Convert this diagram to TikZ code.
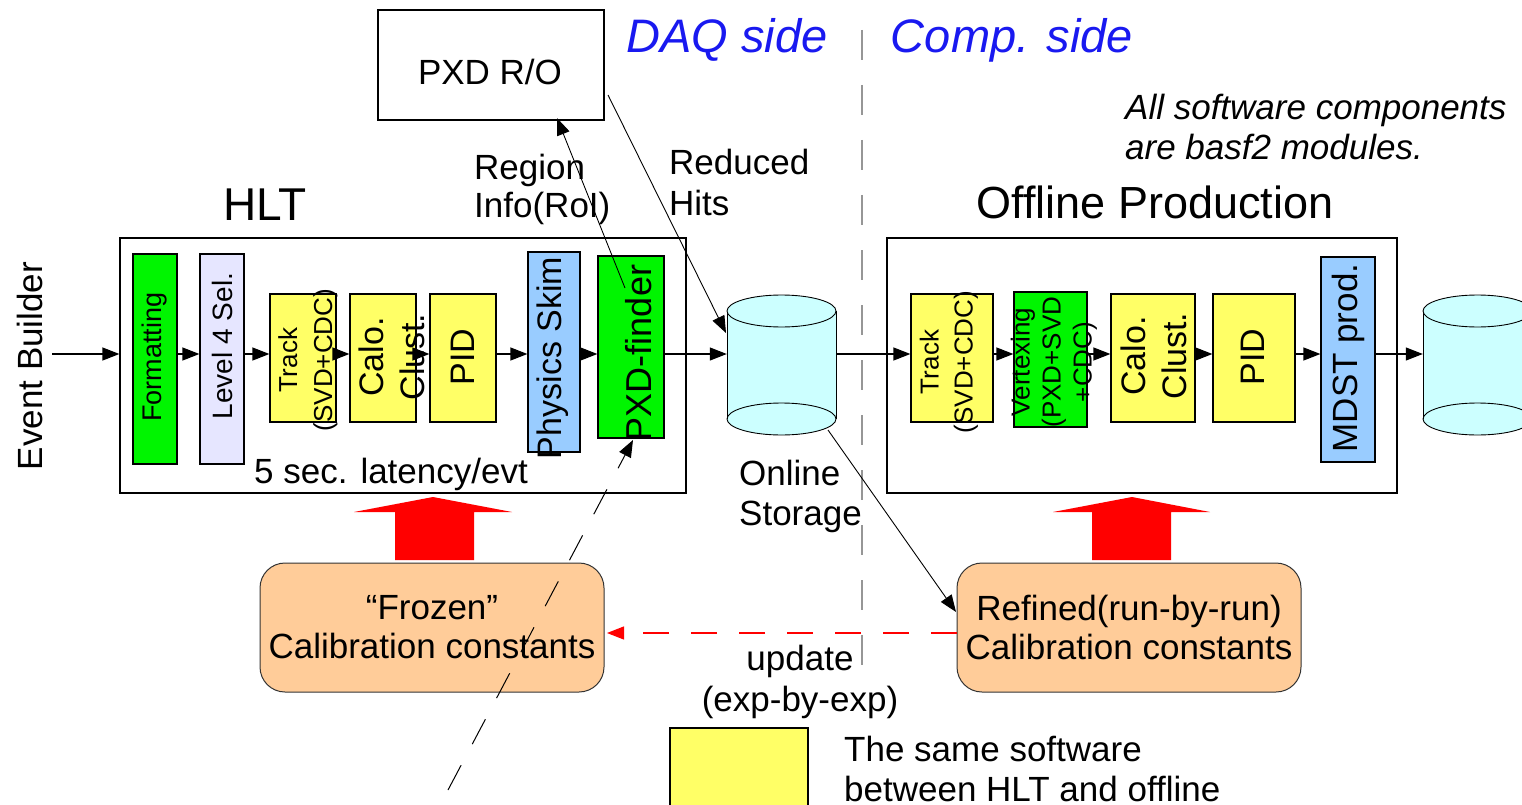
\documentclass[tikz,border=0pt]{standalone}
\usepackage{fontspec}
\setmainfont{Liberation Sans}
\usetikzlibrary{arrows.meta}
\definecolor{fgreen}{RGB}{0,245,0}
\definecolor{lav}{RGB}{230,230,255}
\definecolor{yel}{RGB}{255,255,102}
\definecolor{lblue}{RGB}{153,204,255}
\definecolor{cylc}{RGB}{204,255,255}
\definecolor{peach}{RGB}{255,204,153}
\definecolor{dblue}{RGB}{25,25,240}
\definecolor{vgray}{RGB}{150,150,150}
\newcommand{\fsz}[2]{\fontsize{#1}{#2}\selectfont}
\begin{document}
\begin{tikzpicture}[x=1pt,y=-1pt,
  box/.style={draw=black, line width=1.2pt, inner sep=0pt},
  calbox/.style={draw=black!80, line width=1pt, fill=peach, rounded corners=25pt, inner sep=0pt, minimum width=344pt, minimum height=129pt},
  arr/.style={line width=1.2pt, -{Triangle[length=17pt,width=13pt]}},
  thin arr/.style={line width=0.9pt, -{Triangle[length=17pt,width=13pt]}},
  rot/.style={rotate=90, inner sep=0pt, align=center},
  lbl/.style={inner sep=0pt},
  cylline/.style={line width=0.9pt}
]
\useasboundingbox (0,0) rectangle (1522,805);
\clip (0,0) rectangle (1522,805);
\coordinate (ly) at (0,354);

% ---------- frames ----------
\node[box, minimum width=566pt, minimum height=255pt] (hlt) at (403,365.5) {};
\node[box, minimum width=510pt, minimum height=255pt] (off) at (1142,365.5) {};
\node[box, minimum width=226pt, minimum height=110pt] (pxdro) at (491,65) {};

% ---------- HLT modules ----------
\node[box, fill=fgreen, minimum width=44pt, minimum height=210pt] (fmt) at (155,359) {};
\node[box, fill=lav, minimum width=44pt, minimum height=210pt] (lvl) at (222,359) {};
\node[box, fill=yel, minimum width=66pt, minimum height=128pt] (trk) at (303,358) {};
\node[box, fill=yel, minimum width=66pt, minimum height=128pt] (calo) at (383,358) {};
\node[box, fill=yel, minimum width=66pt, minimum height=128pt] (pid) at (463,358) {};
\node[box, fill=lblue, minimum width=52pt, minimum height=200pt] (skim) at (554,352) {};
\node[box, fill=fgreen, minimum width=66pt, minimum height=182pt] (pxdf) at (631,347) {};

% ---------- Offline modules ----------
\node[box, fill=yel, minimum width=82pt, minimum height=128pt] (otrk) at (952,358) {};
\node[box, fill=fgreen, minimum width=73pt, minimum height=135pt] (vtx) at (1050.5,359.5) {};
\node[box, fill=yel, minimum width=84pt, minimum height=128pt] (ocalo) at (1153,358) {};
\node[box, fill=yel, minimum width=82pt, minimum height=128pt] (opid) at (1254,358) {};
\node[box, fill=lblue, minimum width=54pt, minimum height=205pt] (mdst) at (1348,359.5) {};

% ---------- cylinders ----------
\node[inner sep=0pt, minimum width=109pt, minimum height=140pt] (st) at (781.5,365) {};
\fill[cylc] (727,311) -- (727,419) arc[start angle=180, end angle=360, x radius=54.5pt, y radius=16pt] -- (836,311) -- cycle;
\draw[cylline] (727,311) -- (727,419) (836,311) -- (836,419);
\draw[cylline, fill=cylc] (781.5,311) ellipse [x radius=54.5pt, y radius=16pt];
\draw[cylline] (781.5,419) ellipse [x radius=54.5pt, y radius=16pt];

\node[inner sep=0pt, minimum width=109pt, minimum height=140pt] (st2) at (1477.5,365) {};
\fill[cylc] (1423,311) -- (1423,419) arc[start angle=180, end angle=360, x radius=54.5pt, y radius=16pt] -- (1532,311) -- cycle;
\draw[cylline] (1423,311) -- (1423,419) (1532,311) -- (1532,419);
\draw[cylline, fill=cylc] (1477.5,311) ellipse [x radius=54.5pt, y radius=16pt];
\draw[cylline] (1477.5,419) ellipse [x radius=54.5pt, y radius=16pt];

% ---------- calibration boxes ----------
\node[calbox] (frozen) at (432,627.5) {};
\node[calbox] (refined) at (1129,627.5) {};
\node[lbl, align=center, font=\fsz{35}{39}] (frozent) at (432,627) {``Frozen''\\Calibration constants};
\node[lbl, align=center, font=\fsz{35}{39}] (refinedt) at (1129,627) {Refined(run-by-run)\\Calibration constants};

% legend
\node[box, fill=yel, minimum width=138pt, minimum height=90pt] (leg) at (739,773) {};

% ---------- module texts ----------
\node[rot, font=\fsz{27}{32}] (fmtt) at (155,357) {Formatting};
\node[rot, font=\fsz{28}{32}] (lvlt) at (222,346) {Level 4 Sel.};
\node[rot, font=\fsz{26}{35}] (trkt) at (308,360) {Track\\(SVD+CDC)};
\node[rot, font=\fsz{34}{41}] (calot) at (392,357) {Calo.\\Clust.};
\node[rot, font=\fsz{34}{40}] (pidt) at (463,357) {PID};
\node[rot, font=\fsz{34}{40}] (skimt) at (553,358) {Physics Skim};
\node[rot, font=\fsz{36}{40}] (pxdft) at (639,353) {PXD-finder};

\node[rot, font=\fsz{26}{34}] (otrkt) at (949,362) {Track\\(SVD+CDC)};
\node[rot, font=\fsz{26}{31}] (vtxt) at (1054,362) {Vertexing\\(PXD+SVD\\+CDC)};
\node[rot, font=\fsz{34}{41}] (ocalot) at (1154,356) {Calo.\\Clust.};
\node[rot, font=\fsz{34}{40}] (opidt) at (1253,357) {PID};
\node[rot, font=\fsz{35}{40}] (mdstt) at (1348,358) {MDST prod.};

% ---------- labels ----------
\node[rot, font=\fsz{35}{40}] (eb) at (30,366) {Event Builder};
\node[lbl, font=\fsz{46}{50}] (hltl) at (265,205) {HLT};
\node[lbl, font=\fsz{45}{50}] (offl) at (1155,202) {Offline Production};
\node[lbl, font=\fsz{35}{40}] (lat) at (391,474) {5 sec. latency/evt};
\node[lbl, font=\fsz{35}{40}] (pxdrot) at (490,72) {PXD R/O};
\node[lbl, font=\fsz{47}{50}\itshape, text=dblue] (daq) at (727,40) {DAQ side};
\node[lbl, font=\fsz{47}{50}\itshape, text=dblue] (comp) at (1012,40) {Comp. side};
\node[lbl, anchor=west, align=left, font=\fsz{35}{38}] (roi) at (474,189) {Region\\Info(RoI)};
\node[lbl, anchor=west, align=left, font=\fsz{35}{41}] (rh) at (669,182.5) {Reduced\\Hits};
\node[lbl, anchor=west, align=left, font=\fsz{35}{40}\itshape] (allsw) at (1125,127) {All software components\\are basf2 modules.};
\node[lbl, anchor=west, align=left, font=\fsz{35}{40}] (ost) at (739,496) {Online\\Storage};
\node[lbl, align=center, font=\fsz{35}{41}] (upd) at (800,682) {update\\(exp-by-exp)};
\node[lbl, anchor=west, align=left, font=\fsz{35}{40}] (legt) at (844,769) {The same software\\between HLT and offline};

% ---------- vertical divider ----------
\coordinate (dv0) at (862,30);
\coordinate (dv1) at (862,685);
\draw[vgray, line width=1.6pt, dash pattern=on 30pt off 25pt] (dv0) -- (dv1);

% ---------- red block arrows ----------
\fill[red] (395,560) -- (395,512) -- (354,512) -- (433,497) -- (512,512) -- (474,512) -- (474,560) -- cycle;
\fill[red] (1092,560) -- (1092,512) -- (1053,512) -- (1132,497) -- (1210,512) -- (1171,512) -- (1171,560) -- cycle;

% ---------- flow arrows ----------
\coordinate (e0) at (52,354);
\draw[arr] (e0) -- (e0 -| hlt.west);
\draw[arr] (fmt.east |- ly) -- (lvl.west |- ly);
\draw[arr] (lvl.east |- ly) -- (trk.west |- ly);
\draw[arr] (trk.east |- ly) -- (calo.west |- ly);
\draw[arr] (calo.east |- ly) -- (pid.west |- ly);
\draw[arr] (pid.east |- ly) -- (skim.west |- ly);
\draw[arr] (skim.east |- ly) -- (pxdf.west |- ly);
\draw[arr] (pxdf.east |- ly) -- (st.west |- ly);
\draw[arr] (st.east |- ly) -- (otrk.west |- ly);
\draw[arr] (otrk.east |- ly) -- (vtx.west |- ly);
\draw[arr] (vtx.east |- ly) -- (ocalo.west |- ly);
\draw[arr] (ocalo.east |- ly) -- (opid.west |- ly);
\draw[arr] (opid.east |- ly) -- (mdst.west |- ly);
\draw[arr] (mdst.east |- ly) -- (st2.west |- ly);

% RoI and reduced hits
\coordinate (r0) at (625,288);
\coordinate (r1) at (557,118);
\draw[thin arr] (r0) -- (r1);
\coordinate (h0) at (608,95);
\coordinate (h1) at (726,333);
\draw[thin arr] (h0) -- (h1);

% storage to refined
\coordinate (s0) at (828,430);
\coordinate (s1) at (956,612);
\draw[thin arr] (s0) -- (s1);

% update (red dashed)
\coordinate (u0) at (957,633);
\coordinate (u1) at (607,633);
\draw[red, line width=1.2pt, dash pattern=on 26pt off 22pt, -{Triangle[length=17pt,width=13pt]}] (u0) -- (u1);

% dashed line into PXD-finder
\coordinate (d0) at (448,790);
\coordinate (d1) at (633,440);
\draw[line width=1pt, dash pattern=on 28pt off 24pt, -{Triangle[length=17pt,width=13pt]}] (d0) -- (d1);
\end{tikzpicture}
\end{document}
